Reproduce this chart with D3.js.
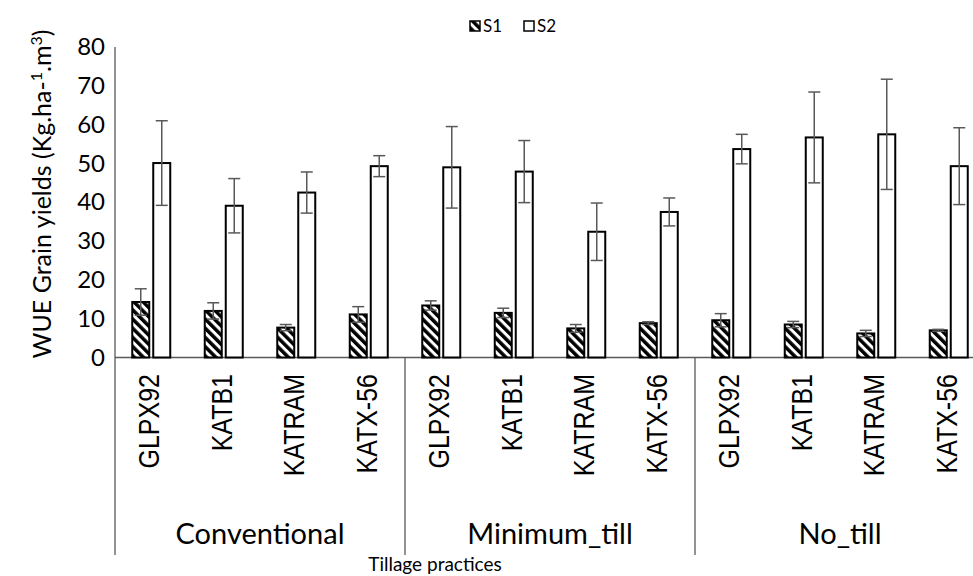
<!DOCTYPE html>
<html>
<head>
<meta charset="utf-8">
<script src="https://cdn.jsdelivr.net/npm/d3@7"></script>
<style>
  html, body { margin: 0; padding: 0; background: #fff; }
  svg { display: block; }
</style>
</head>
<body>
<svg id="chart" width="973" height="576"></svg>
<script>
const groups = ["Conventional", "Minimum_till", "No_till"];
const cultivars = ["GLPX92", "KATB1", "KATRAM", "KATX-56"];
const seriesNames = ["S1", "S2"];
const s1Values = [14.3, 12.0, 7.7, 11.1, 13.4, 11.5, 7.5, 8.85, 9.6, 8.5, 6.2, 7.0];
const s1Errors = [3.4, 2.1, 0.8, 2.0, 1.2, 1.2, 1.0, 0.35, 1.7, 0.8, 0.8, 0.25];
const s2Values = [50.1, 39.1, 42.5, 49.3, 49.0, 47.9, 32.4, 37.5, 53.7, 56.7, 57.5, 49.3];
const s2Errors = [10.9, 7.0, 5.3, 2.7, 10.5, 8.0, 7.4, 3.6, 3.8, 11.7, 14.2, 9.9];
const yTicks = [0, 10, 20, 30, 40, 50, 60, 70, 80];
const xTitle = "Tillage practices";

const rows = [];
groups.forEach((g, gi) => cultivars.forEach((c, ci) => {
  const i = gi * cultivars.length + ci;
  rows.push({ key: g + "|" + c, group: g, cultivar: c,
    S1: s1Values[i], S1e: s1Errors[i], S2: s2Values[i], S2e: s2Errors[i] });
}));

const svg = d3.select("#chart");
const left = 115, right = 985, baseY = 357.5, topY = 47, bottomY = 555;
const axisColor = "#595959";
const errColor = "#595959";
const calibri = "Lato, 'Open Sans', sans-serif";

const defs = svg.append("defs");
const pat = defs.append("pattern").attr("id", "hatch")
  .attr("patternUnits", "userSpaceOnUse").attr("width", 6.5).attr("height", 6.5)
  .attr("patternTransform", "rotate(-45)");
pat.append("rect").attr("width", 6.5).attr("height", 6.5).attr("fill", "#fff");
pat.append("rect").attr("width", 3.5).attr("height", 6.5).attr("fill", "#000");

const x0 = d3.scaleBand().domain(rows.map(d => d.key)).range([left, right]).padding(0);
const x1 = d3.scaleBand().domain(seriesNames).range([-19, 19]).paddingInner(4 / 21);
const y = d3.scaleLinear().domain([0, 80]).range([baseY, topY]);

// y axis tick labels
const yAxis = d3.axisLeft(y).tickValues(yTicks).tickSize(0).tickPadding(10);
const gy = svg.append("g").attr("transform", `translate(${left},0)`).call(yAxis);
gy.select(".domain").remove();
gy.selectAll("text").attr("font-family", calibri).attr("font-size", 24).attr("fill", "#000");

// axis lines
svg.append("line").attr("x1", left).attr("x2", left).attr("y1", topY).attr("y2", bottomY)
  .attr("stroke", axisColor).attr("stroke-width", 1.3);
svg.append("line").attr("x1", left).attr("x2", 973).attr("y1", baseY).attr("y2", baseY)
  .attr("stroke", axisColor).attr("stroke-width", 1.3);
// group separators
groups.forEach((g, gi) => {
  if (gi === 0) return;
  const xs = x0(g + "|" + cultivars[0]);
  svg.append("line").attr("x1", xs).attr("x2", xs).attr("y1", baseY).attr("y2", bottomY)
    .attr("stroke", axisColor).attr("stroke-width", 1.3);
});

// bars
const cat = svg.append("g").selectAll("g").data(rows).join("g")
  .attr("transform", d => `translate(${x0(d.key) + x0.bandwidth() / 2},0)`);

seriesNames.forEach(s => {
  cat.append("rect")
    .attr("x", x1(s)).attr("width", x1.bandwidth())
    .attr("y", d => y(d[s])).attr("height", d => baseY - y(d[s]))
    .attr("fill", s === "S1" ? "url(#hatch)" : "#fff")
    .attr("stroke", "#000").attr("stroke-width", 2);
});

// error bars
seriesNames.forEach(s => {
  const cx = x1(s) + x1.bandwidth() / 2;
  cat.append("line").attr("x1", cx).attr("x2", cx)
    .attr("y1", d => y(d[s] + d[s + "e"])).attr("y2", d => y(d[s] - d[s + "e"]))
    .attr("stroke", errColor).attr("stroke-width", 1.5);
  [1, -1].forEach(sign => {
    cat.append("line").attr("x1", cx - 6).attr("x2", cx + 6)
      .attr("y1", d => y(d[s] + sign * d[s + "e"])).attr("y2", d => y(d[s] + sign * d[s + "e"]))
      .attr("stroke", errColor).attr("stroke-width", 1.5);
  });
});

// cultivar labels (rotated)
cat.append("text")
  .attr("transform", "translate(8,374) rotate(-90) scale(1,1.18)")
  .attr("text-anchor", "end")
  .attr("font-family", "'Liberation Sans', Arial, sans-serif")
  .attr("font-size", 25).attr("fill", "#000")
  .text(d => d.cultivar);

// group labels
groups.forEach(g => {
  const xs = x0(g + "|" + cultivars[0]);
  const xe = Math.min(x0(g + "|" + cultivars[cultivars.length - 1]) + x0.bandwidth(), right);
  svg.append("text").attr("x", (xs + xe) / 2).attr("y", 544)
    .attr("text-anchor", "middle").attr("font-family", calibri).attr("font-size", 29)
    .attr("fill", "#000").text(g);
});

// x title
svg.append("text").attr("x", 435).attr("y", 571).attr("text-anchor", "middle")
  .attr("font-family", calibri).attr("font-size", 19).attr("fill", "#000").text(xTitle);

// y title
const yt = svg.append("text").attr("transform", "translate(51,194) rotate(-90)")
  .attr("text-anchor", "middle").attr("font-family", calibri).attr("font-size", 25).attr("fill", "#000");
yt.append("tspan").text("WUE Grain yields (Kg.ha-");
yt.append("tspan").attr("baseline-shift", "super").attr("font-size", 16).text("1");
yt.append("tspan").text(".m");
yt.append("tspan").attr("baseline-shift", "super").attr("font-size", 16).text("3");
yt.append("tspan").text(")");

// legend
const legend = svg.append("g").attr("transform", "translate(470,21)");
seriesNames.forEach((s, i) => {
  const lg = legend.append("g").attr("transform", `translate(${i * 54},0)`);
  lg.append("rect").attr("width", 10).attr("height", 10)
    .attr("fill", s === "S1" ? "url(#hatch)" : "#fff").attr("stroke", "#000").attr("stroke-width", 1.5);
  lg.append("text").attr("x", 13).attr("y", 11).attr("font-family", calibri).attr("font-size", 17)
    .attr("fill", "#000").text(s);
});
</script>
</body>
</html>
